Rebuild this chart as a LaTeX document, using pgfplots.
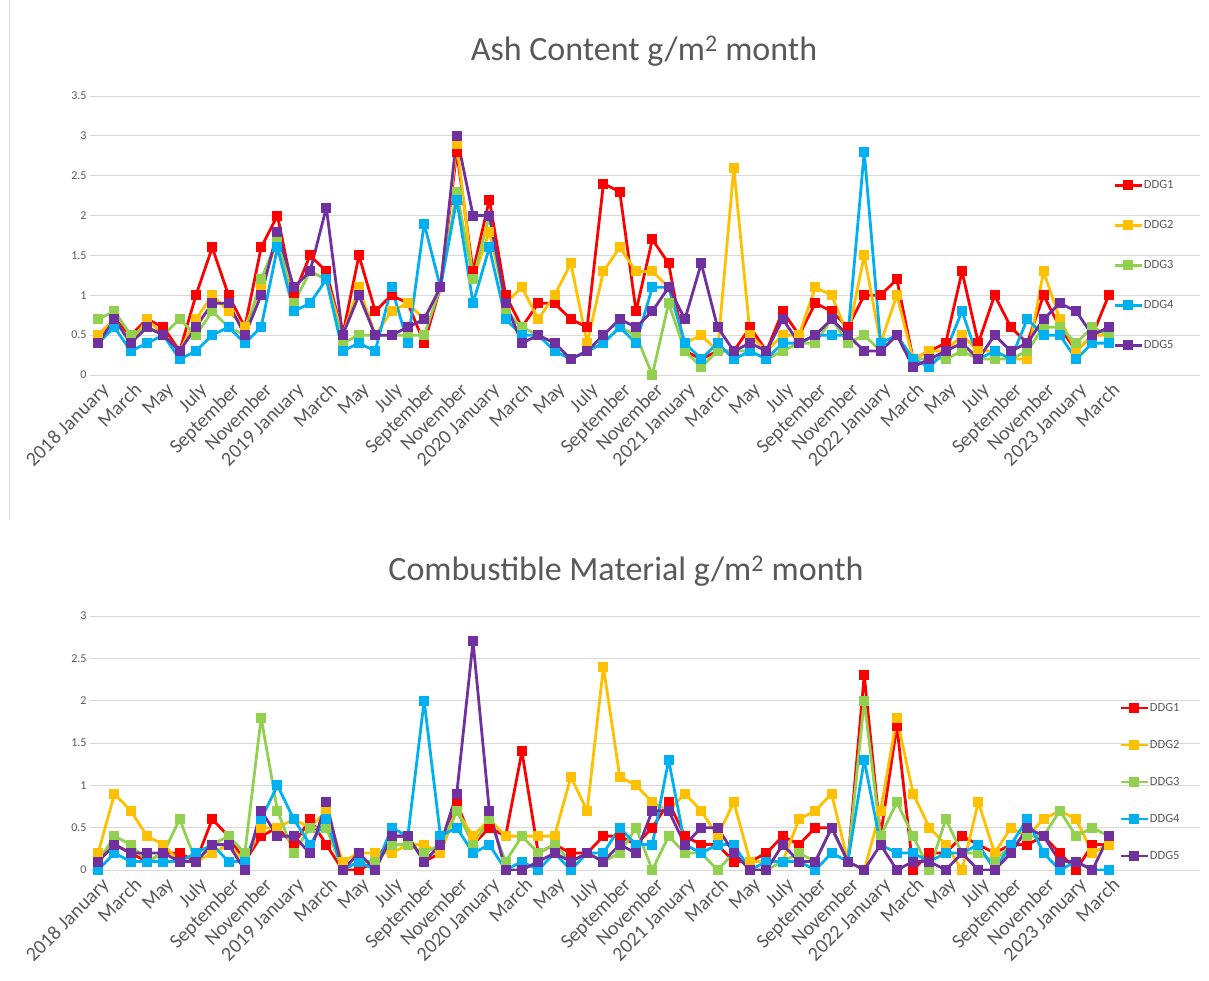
\documentclass[border=0pt]{standalone}
\usepackage{pgfplots}
\pgfplotsset{compat=1.18}
\usepackage{pgfplotstable}
\usepackage{fontspec}
\setmainfont{Carlito}
\definecolor{c1}{HTML}{FF0000}
\definecolor{c2}{HTML}{FFC000}
\definecolor{c3}{HTML}{92D050}
\definecolor{c4}{HTML}{00B0F0}
\definecolor{c5}{HTML}{7030A0}
\definecolor{txt}{HTML}{595959}
\definecolor{gridc}{HTML}{D9D9D9}

\pgfplotstableread{
i a b c d e
0 0.5 0.5 0.7 0.4 0.4
1 0.7 0.7 0.8 0.6 0.7
2 0.5 0.4 0.5 0.3 0.4
3 0.7 0.7 0.6 0.4 0.6
4 0.6 0.5 0.5 0.5 0.5
5 0.3 0.3 0.7 0.2 0.3
6 1.0 0.7 0.5 0.3 0.6
7 1.6 1.0 0.8 0.5 0.9
8 1.0 0.8 0.6 0.6 0.9
9 0.6 0.6 0.5 0.4 0.5
10 1.6 1.1 1.2 0.6 1.0
11 2.0 1.7 1.7 1.6 1.8
12 1.0 1.1 0.9 0.8 1.1
13 1.5 1.3 1.3 0.9 1.3
14 1.3 1.2 1.2 1.2 2.1
15 0.5 0.5 0.4 0.3 0.5
16 1.5 1.1 0.5 0.4 1.0
17 0.8 0.5 0.5 0.3 0.5
18 1.0 0.8 0.5 1.1 0.5
19 0.9 0.9 0.5 0.4 0.6
20 0.4 0.7 0.5 1.9 0.7
21 1.1 1.1 1.1 1.1 1.1
22 2.8 2.9 2.3 2.2 3.0
23 1.3 1.2 1.2 0.9 2.0
24 2.2 1.8 2.0 1.6 2.0
25 1.0 0.9 0.8 0.7 0.9
26 0.6 1.1 0.6 0.5 0.4
27 0.9 0.7 0.5 0.5 0.5
28 0.9 1.0 0.4 0.3 0.4
29 0.7 1.4 0.2 0.2 0.2
30 0.6 0.4 0.3 0.3 0.3
31 2.4 1.3 0.4 0.4 0.5
32 2.3 1.6 0.6 0.6 0.7
33 0.8 1.3 0.5 0.4 0.6
34 1.7 1.3 0.0 1.1 0.8
35 1.4 1.1 0.9 1.1 1.1
36 0.3 0.4 0.3 0.4 0.7
37 0.2 0.5 0.1 0.2 1.4
38 0.3 0.3 0.3 0.4 0.6
39 0.3 2.6 0.3 0.2 0.3
40 0.6 0.5 0.3 0.3 0.4
41 0.3 0.3 0.2 0.2 0.3
42 0.8 0.5 0.3 0.4 0.7
43 0.5 0.5 0.4 0.4 0.4
44 0.9 1.1 0.4 0.5 0.5
45 0.8 1.0 0.7 0.5 0.7
46 0.6 0.5 0.4 0.5 0.5
47 1.0 1.5 0.5 2.8 0.3
48 1.0 0.4 0.3 0.4 0.3
49 1.2 1.0 0.5 0.5 0.5
50 0.2 0.2 0.2 0.2 0.1
51 0.3 0.3 0.2 0.1 0.2
52 0.4 0.3 0.2 0.3 0.3
53 1.3 0.5 0.3 0.8 0.4
54 0.4 0.3 0.2 0.2 0.2
55 1.0 0.3 0.2 0.3 0.5
56 0.6 0.2 0.2 0.2 0.3
57 0.4 0.2 0.3 0.7 0.4
58 1.0 1.3 0.6 0.5 0.7
59 0.6 0.7 0.6 0.5 0.9
60 0.3 0.3 0.4 0.2 0.8
61 0.5 0.5 0.6 0.4 0.5
62 1.0 0.5 0.5 0.4 0.6
}\ash

\pgfplotstableread{
i a b c d e
0 0.1 0.2 0.1 0.0 0.1
1 0.3 0.9 0.4 0.2 0.3
2 0.2 0.7 0.3 0.1 0.2
3 0.1 0.4 0.1 0.1 0.2
4 0.2 0.3 0.2 0.1 0.2
5 0.2 0.1 0.6 0.1 0.1
6 0.1 0.1 0.1 0.2 0.1
7 0.6 0.2 0.3 0.3 0.3
8 0.4 0.3 0.4 0.1 0.3
9 0.1 0.1 0.2 0.1 0.0
10 0.4 0.5 1.8 0.6 0.7
11 0.5 0.5 0.7 1.0 0.4
12 0.3 0.6 0.2 0.6 0.4
13 0.6 0.5 0.5 0.3 0.2
14 0.3 0.7 0.5 0.6 0.8
15 0.0 0.1 0.0 0.0 0.0
16 0.0 0.2 0.1 0.1 0.2
17 0.1 0.2 0.1 0.0 0.0
18 0.4 0.2 0.3 0.5 0.4
19 0.4 0.3 0.3 0.4 0.4
20 0.1 0.3 0.2 2.0 0.1
21 0.2 0.2 0.3 0.4 0.3
22 0.8 0.7 0.7 0.5 0.9
23 0.3 0.4 0.3 0.2 2.7
24 0.5 0.6 0.6 0.3 0.7
25 0.4 0.4 0.1 0.0 0.0
26 1.4 0.4 0.4 0.1 0.0
27 0.2 0.4 0.2 0.0 0.1
28 0.3 0.4 0.3 0.2 0.2
29 0.2 1.1 0.1 0.0 0.1
30 0.2 0.7 0.2 0.2 0.2
31 0.4 2.4 0.1 0.2 0.1
32 0.4 1.1 0.2 0.5 0.3
33 0.3 1.0 0.5 0.3 0.2
34 0.5 0.8 0.0 0.3 0.7
35 0.8 0.7 0.4 1.3 0.7
36 0.4 0.9 0.2 0.3 0.3
37 0.3 0.7 0.2 0.2 0.5
38 0.3 0.4 0.0 0.3 0.5
39 0.1 0.8 0.2 0.3 0.2
40 0.1 0.1 0.0 0.0 0.0
41 0.2 0.1 0.0 0.1 0.0
42 0.4 0.1 0.1 0.1 0.3
43 0.3 0.6 0.2 0.1 0.1
44 0.5 0.7 0.1 0.0 0.1
45 0.5 0.9 0.5 0.2 0.5
46 0.1 0.1 0.1 0.1 0.1
47 2.3 0.0 2.0 1.3 0.0
48 0.4 0.7 0.4 0.3 0.3
49 1.7 1.8 0.8 0.2 0.0
50 0.0 0.9 0.4 0.2 0.1
51 0.2 0.5 0.0 0.1 0.1
52 0.2 0.3 0.6 0.2 0.0
53 0.4 0.0 0.2 0.2 0.2
54 0.3 0.8 0.2 0.3 0.0
55 0.2 0.2 0.1 0.0 0.0
56 0.3 0.5 0.3 0.3 0.2
57 0.3 0.4 0.4 0.6 0.5
58 0.4 0.6 0.4 0.2 0.4
59 0.2 0.7 0.7 0.0 0.1
60 0.0 0.6 0.4 0.1 0.1
61 0.3 0.2 0.5 0.0 0.0
62 0.3 0.3 0.4 0.0 0.4
}\comb

\pgfplotsset{
  ddg/.style={
    scale only axis, width=1110pt, xmin=-0.5, xmax=67.6, ymin=0,
    axis line style={draw=none}, major tick length=0pt,
    ymajorgrids, grid style={gridc, line width=1pt},
    xtick={0,2,...,62},
    xticklabels={2018 January,March,May,July,September,November,2019 January,March,May,July,September,November,2020 January,March,May,July,September,November,2021 January,March,May,July,September,November,2022 January,March,May,July,September,November,2023 January,March},
    x tick label style={rotate=45, anchor=north east, font=\fontsize{20}{20}\selectfont, text=txt, inner sep=1pt, yshift=-5pt, xshift=-2pt},
    y tick label style={font=\fontsize{12}{12}\selectfont, text=txt},
    /pgf/number format/assume math mode=true,
    every axis plot/.append style={line width=2.8pt, line join=round, mark=square*, mark size=3.6pt, mark options={solid, line join=miter}},
    legend style={draw=none, fill=none, inner sep=0pt, font=\fontsize{12.5}{12.5}\selectfont, text=txt,
      nodes={inner sep=1pt, text height=8pt, text depth=1pt}},
    legend cell align=left,
    legend image code/.code={\draw[mark repeat=2,mark phase=2] plot coordinates {(0pt,0pt) (13.5pt,0pt) (27pt,0pt)};},
  }
}

\begin{document}
\begin{tikzpicture}
\begin{axis}[ddg, name=ash, at={(90pt,-375pt)}, anchor=south west, height=279pt, ymax=3.5,
  ytick={0,0.5,1,1.5,2,2.5,3,3.5},
  legend style={at={(0.9216,0.70)}, anchor=north west, row sep=29pt}]
\addplot[c1] table[x=i,y=a] {\ash};
\addplot[c2] table[x=i,y=b] {\ash};
\addplot[c3] table[x=i,y=c] {\ash};
\addplot[c4] table[x=i,y=d] {\ash};
\addplot[c5] table[x=i,y=e] {\ash};
\legend{DDG1,DDG2,DDG3,DDG4,DDG5}
\end{axis}
\begin{axis}[ddg, name=comb, at={(90pt,-870pt)}, anchor=south west, height=254pt, ymax=3,
  ytick={0,0.5,1,1.5,2,2.5,3},
  legend style={at={(0.927,0.66)}, anchor=north west, row sep=26pt}]
\addplot[c1] table[x=i,y=a] {\comb};
\addplot[c2] table[x=i,y=b] {\comb};
\addplot[c3] table[x=i,y=c] {\comb};
\addplot[c4] table[x=i,y=d] {\comb};
\addplot[c5] table[x=i,y=e] {\comb};
\legend{DDG1,DDG2,DDG3,DDG4,DDG5}
\end{axis}
\draw[gridc, line width=1pt] (9pt,0pt) -- (9pt,-520pt);
\node[font=\fontsize{34}{34}\selectfont, text=txt] at (644pt,-51pt) {Ash Content g/m\textsuperscript{2} month};
\node[font=\fontsize{34}{34}\selectfont, text=txt] at (626pt,-571pt) {Combustible Material g/m\textsuperscript{2} month};
\pgfresetboundingbox
\useasboundingbox (0pt,0pt) rectangle (1209pt,-980pt);
\end{tikzpicture}
\end{document}
